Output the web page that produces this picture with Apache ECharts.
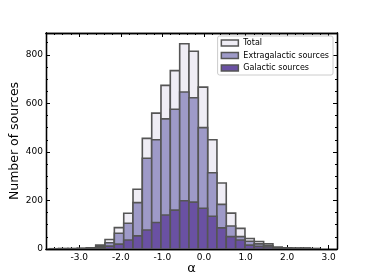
<!DOCTYPE html>
<html><head><meta charset="utf-8">
<script src="https://cdn.jsdelivr.net/npm/echarts@6/dist/echarts.min.js"></script>
<style>html,body{margin:0;padding:0;background:#fff}#c{width:374px;height:280px}</style>
</head><body><div id="c"></div>
<script>
const binEdges = [-3.720,-3.496,-3.272,-3.047,-2.827,-2.604,-2.380,-2.156,-1.930,-1.707,-1.483,-1.257,-1.034,-0.810,-0.584,-0.361,-0.137,0.089,0.312,0.536,0.762,0.986,1.209,1.435,1.659,1.882,2.106,2.330,2.554,2.778];
const totalCounts = [1,2,2,3,5,16,39,88,147,246,456,560,674,735,846,815,667,450,272,148,85,43,31,21,8,5,4,4,2];
const extragalacticCounts = [1,1,1,2,3,10,26,65,106,191,374,450,536,576,647,623,500,314,184,95,51,32,21,13,5,3,3,3,1];
const galacticCounts = [0,1,1,1,2,6,12,20,37,54,78,109,140,160,199,193,168,135,87,51,37,16,11,8,3,2,1,1,1];
const xMajorTicks = [-3,-2,-1,0,1,2,3];
const yMajorTicks = [0,200,400,600,800];
const seriesNames = ['Total','Extragalactic sources','Galactic sources'];
const seriesColors = ['#efedf5','#9e9ac8','#6a51a3'];

const FONT = 'DejaVu Sans';
const EDGE = '#555555';
function toBins(counts){ return counts.map((c,i)=>[binEdges[i], binEdges[i+1], c]); }
function makeRender(fill){
  return function(params, api){
    const p0 = api.coord([api.value(0), api.value(2)]);
    const p1 = api.coord([api.value(1), 0]);
    return {type:'rect', shape:{x:p0[0], y:p0[1], width:p1[0]-p0[0], height:p1[1]-p0[1]},
      style:{fill:fill, stroke:EDGE, lineWidth:1.6}};
  };
}
const gridRect = {left:46, right:37, top:33, bottom:31, containLabel:false, outerBoundsMode:'none'};
const lineStyle = {color:'#000', width:1.3};
const tickStyle = {color:'#000', width:1};
function xAx(grid, pos, major, withLabel){
  const a = {type:'value', gridIndex:grid, position:pos, min:-3.8, max:3.2,
    axisLine:{show:true, onZero:false, lineStyle:lineStyle}, splitLine:{show:false}};
  if (major){
    a.axisTick = {show:true, inside:true, length:4, lineStyle:tickStyle, customValues:xMajorTicks};
    a.axisLabel = withLabel ? {show:true, customValues:xMajorTicks, formatter:v=>v.toFixed(1), fontSize:9, color:'#000', margin:4, fontFamily:FONT} : {show:false};
  } else {
    a.interval = 0.2;
    a.axisTick = {show:true, inside:true, length:2, lineStyle:tickStyle};
    a.axisLabel = {show:false};
  }
  if (withLabel){ a.name='α'; a.nameLocation='middle'; a.nameGap=13; a.nameMoveOverlap=false; a.nameTextStyle={fontSize:13, color:'#000', fontFamily:FONT}; }
  return a;
}
function yAx(grid, pos, major, withLabel){
  const a = {type:'value', gridIndex:grid, position:pos, min:0, max:890,
    axisLine:{show:true, onZero:false, lineStyle:lineStyle}, splitLine:{show:false}};
  if (major){
    a.axisTick = {show:true, inside:true, length:4, lineStyle:tickStyle, customValues:yMajorTicks};
    a.axisLabel = withLabel ? {show:true, customValues:yMajorTicks, fontSize:9, color:'#000', margin:3, fontFamily:FONT} : {show:false};
  } else {
    a.interval = 50;
    a.axisTick = {show:true, inside:true, length:2, lineStyle:tickStyle};
    a.axisLabel = {show:false};
  }
  if (withLabel){ a.name='Number of sources'; a.nameLocation='middle'; a.nameGap=25; a.nameMoveOverlap=false; a.nameTextStyle={fontSize:12.5, color:'#000', fontFamily:FONT}; }
  return a;
}
const chart = echarts.init(document.getElementById('c'), null, {renderer:'canvas'});
const countsList = [totalCounts, extragalacticCounts, galacticCounts];
chart.setOption({
  animation:false,
  backgroundColor:'#fff',
  grid:[Object.assign({}, gridRect), Object.assign({}, gridRect)],
  xAxis:[xAx(0,'bottom',true,true), xAx(0,'top',true,false), xAx(1,'bottom',false,false), xAx(1,'top',false,false)],
  yAxis:[yAx(0,'left',true,true), yAx(0,'right',true,false), yAx(1,'left',false,false), yAx(1,'right',false,false)],
  legend:{orient:'vertical', right:41, top:36, itemWidth:17, itemHeight:6, itemGap:4.5,
    padding:[3,4,3,3], backgroundColor:'#fff', borderColor:'#cccccc', borderWidth:1, borderRadius:2,
    textStyle:{fontSize:8, fontFamily:FONT, color:'#000'},
    data: seriesNames.map((n,i)=>({name:n, icon:'rect', itemStyle:{color:seriesColors[i], borderColor:EDGE, borderWidth:1.5}}))},
  series: seriesNames.map((n,i)=>({
    name:n, type:'custom', xAxisIndex:0, yAxisIndex:0, clip:true,
    itemStyle:{color:seriesColors[i]},
    renderItem: makeRender(seriesColors[i]),
    encode:{x:[0,1], y:2},
    data: toBins(countsList[i]),
    z: 2+i
  }))
});
</script></body></html>
